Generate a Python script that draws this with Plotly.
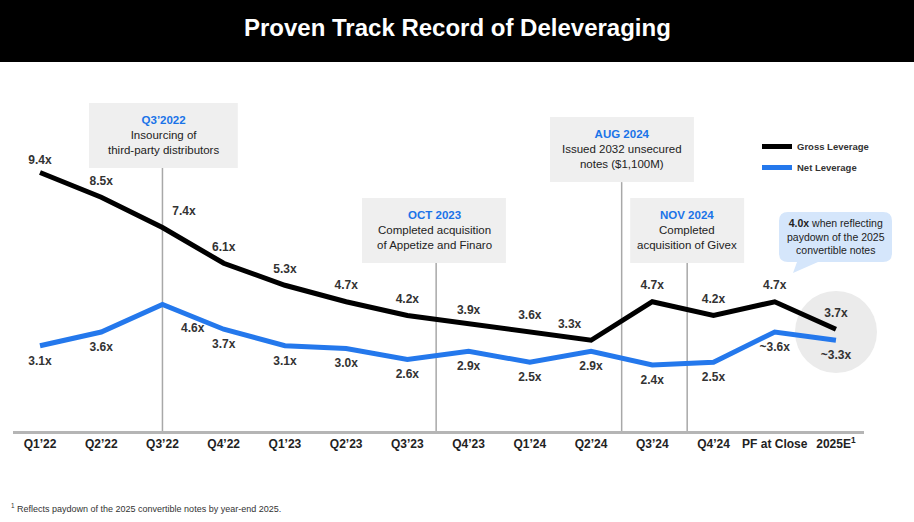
import plotly.graph_objects as go

categories = ["Q1’22", "Q2’22", "Q3’22", "Q4’22", "Q1’23", "Q2’23", "Q3’23",
              "Q4’23", "Q1’24", "Q2’24", "Q3’24", "Q4’24", "PF at Close", "2025E<sup>1</sup>"]
gross = [9.4, 8.5, 7.4, 6.1, 5.3, 4.7, 4.2, 3.9, 3.6, 3.3, 4.7, 4.2, 4.7, 3.7]
net = [3.1, 3.6, 4.6, 3.7, 3.1, 3.0, 2.6, 2.9, 2.5, 2.9, 2.4, 2.5, 3.6, 3.3]
gross_labels = ["9.4x", "8.5x", "7.4x", "6.1x", "5.3x", "4.7x", "4.2x", "3.9x", "3.6x", "3.3x",
                "4.7x", "4.2x", "4.7x", "3.7x"]
net_labels = ["3.1x", "3.6x", "4.6x", "3.7x", "3.1x", "3.0x", "2.6x", "2.9x", "2.5x", "2.9x",
              "2.4x", "2.5x", "~3.6x", "~3.3x"]

# label placement (styling)
gross_pos = ["top center"] * 14
gross_pos[2] = "top right"
gross_pos[9] = "top left"
gross_offset = [14] * 14
gross_offset[0] = 8
gross_offset[7] = 10
net_pos = ["bottom center"] * 14
net_pos[2] = "bottom right"
net_offset = [14] * 14
net_offset[2] = 28

events = [
    # (x position, header, body, box x0, x1, y0, y1, text y)
    (2.0, "Q3’2022", "Insourcing of<br>third-party distributors", 0.80, 3.23, 9.56, 11.93, 10.76),
    (6.47, "OCT 2023", "Completed acquisition<br>of Appetize and Finaro", 5.26, 7.61, 6.11, 8.47, 7.31),
    (9.5, "AUG 2024", "Issued 2032 unsecured<br>notes ($1,100M)", 8.33, 10.68, 9.05, 11.42, 10.25),
    (10.57, "NOV 2024", "Completed<br>acquisition of Givex", 9.64, 11.50, 6.11, 8.47, 7.31),
]

W, H = 914, 522
ML, MR, MT, MB = 13, 50, 101, 91
PW = W - ML - MR
PH = H - MT - MB


def px(xp):
    return (xp - ML) / PW


def py(yp):
    return (H - MB - yp) / PH


BLUE = "#2478ec"
HEAD_BLUE = "#1a73e8"
FONT = "Arial"

x = list(range(len(categories)))
fig = go.Figure()
fig.add_trace(go.Scatter(
    x=x, y=gross, mode="lines+markers+text", name="Gross Leverage", legendgroup="g",
    line=dict(color="black", width=5),
    marker=dict(size=gross_offset, color="rgba(0,0,0,0)", line=dict(width=0, color="rgba(0,0,0,0)")),
    text=gross_labels, textposition=gross_pos,
    textfont=dict(family=FONT, size=12, color="#333333", weight="bold"),
    cliponaxis=False, hoverinfo="skip",
))
fig.add_trace(go.Scatter(
    x=x, y=net, mode="lines+markers+text", name="Net Leverage", legendgroup="n",
    line=dict(color=BLUE, width=5),
    marker=dict(size=net_offset, color="rgba(0,0,0,0)", line=dict(width=0, color="rgba(0,0,0,0)")),
    text=net_labels, textposition=net_pos,
    textfont=dict(family=FONT, size=12, color="#333333", weight="bold"),
    cliponaxis=False, hoverinfo="skip",
))

shapes = []
annotations = []
# title band
shapes.append(dict(type="rect", xref="paper", yref="paper", x0=px(-5), x1=px(W + 5),
                   y0=py(62), y1=py(-5), fillcolor="black", line=dict(width=0), layer="below"))
annotations.append(dict(xref="paper", yref="paper", x=px(457), y=py(27), showarrow=False,
                        xanchor="center", yanchor="middle",
                        text="<b>Proven Track Record of Deleveraging</b>",
                        font=dict(family=FONT, size=24, color="white")))
# highlight circle behind 2025E
shapes.append(dict(type="circle", xref="paper", yref="paper", x0=px(795), x1=px(877),
                   y0=py(373), y1=py(291), fillcolor="#ebebeb", line=dict(width=0), layer="below"))

for ex, head, body, bx0, bx1, by0, by1, ty in events:
    shapes.append(dict(type="line", xref="x", yref="y", x0=ex, x1=ex, y0=0, y1=by0,
                       line=dict(color="#a8a8a8", width=1.5), layer="below"))
    shapes.append(dict(type="rect", xref="x", yref="y", x0=bx0, x1=bx1, y0=by0, y1=by1,
                       fillcolor="#efefef", line=dict(width=0), layer="below"))
    annotations.append(dict(xref="x", yref="y", x=(bx0 + bx1) / 2, y=ty, showarrow=False,
                            xanchor="center", yanchor="middle", align="center",
                            text=f"<span style='color:{HEAD_BLUE}'><b>{head}</b></span><br>{body}",
                            font=dict(family=FONT, size=11.5, color="#222222")))

# callout bubble
bx0, bx1, by0, by1, r = 779, 892, 212, 262, 9
pts = [
    f"M{px(bx0 + r)},{py(by0)}",
    f"L{px(bx1 - r)},{py(by0)}",
    f"Q{px(bx1)},{py(by0)} {px(bx1)},{py(by0 + r)}",
    f"L{px(bx1)},{py(by1 - r)}",
    f"Q{px(bx1)},{py(by1)} {px(bx1 - r)},{py(by1)}",
    f"L{px(818)},{py(by1)}",
    f"L{px(793)},{py(273)}",
    f"L{px(797)},{py(by1)}",
    f"L{px(bx0 + r)},{py(by1)}",
    f"Q{px(bx0)},{py(by1)} {px(bx0)},{py(by1 - r)}",
    f"L{px(bx0)},{py(by0 + r)}",
    f"Q{px(bx0)},{py(by0)} {px(bx0 + r)},{py(by0)}",
    "Z",
]
shapes.append(dict(type="path", xref="paper", yref="paper", path=" ".join(pts),
                   fillcolor="#d5e6fb", line=dict(width=0), layer="below"))
annotations.append(dict(xref="paper", yref="paper", x=px(835.5), y=py(236), showarrow=False,
                        xanchor="center", yanchor="middle", align="center",
                        text="<b>4.0x</b> when reflecting<br>paydown of the 2025<br>convertible notes",
                        font=dict(family=FONT, size=10.5, color="#222222")))

# footnote
annotations.append(dict(xref="paper", yref="paper", x=px(9), y=py(508), xanchor="left",
                        yanchor="middle", showarrow=False,
                        text="<sup>1</sup> Reflects paydown of the 2025 convertible notes by year-end 2025.",
                        font=dict(family=FONT, size=9, color="#333333")))

fig.update_layout(
    width=W, height=H,
    margin=dict(l=ML, r=MR, t=MT, b=MB),
    paper_bgcolor="white", plot_bgcolor="white",
    shapes=shapes, annotations=annotations,
    showlegend=True,
    legend=dict(x=px(757), y=py(132), xanchor="left", yanchor="top",
                bgcolor="rgba(0,0,0,0)", itemwidth=30, tracegroupgap=2,
                font=dict(family=FONT, size=9.5, color="#333333", weight="bold")),
    xaxis=dict(range=[-0.441, 13.458], tickvals=x, ticktext=categories,
               showgrid=False, zeroline=False, showline=True, linecolor="#b5b5b5", linewidth=2.5,
               ticks="", tickfont=dict(family=FONT, size=12, color="#222222", weight="bold"),
               fixedrange=True),
    yaxis=dict(range=[0, 12], visible=False, showgrid=False, zeroline=False, fixedrange=True),
)

fig.write_html("out.html", config={"displayModeBar": False},
               post_script="document.body.style.margin='0';document.body.style.padding='0';")
